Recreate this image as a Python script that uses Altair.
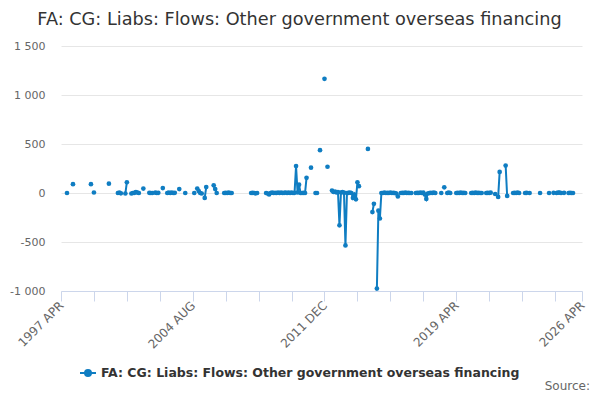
import altair as alt
import pandas as pd

title_text = "FA: CG: Liabs: Flows: Other government overseas financing"
series_name = "FA: CG: Liabs: Flows: Other government overseas financing"
source_text = "Source:"

# month index counted from 1997 APR (0) to 2026 APR (348)
obs_month = [
    4, 8, 20, 22, 32, 38, 39, 40, 43, 44, 47, 48, 49, 50, 51, 52, 55,
    59, 60, 61, 63, 64, 65, 68, 71, 72, 73, 74, 75, 76, 79, 83, 89,
    91, 92, 93, 94, 96, 97, 102, 103, 104, 109, 110, 111, 112, 113, 114,
    127, 128, 129, 130, 131,
    137, 138, 139, 140, 141, 142, 143, 144, 145, 146, 147, 148, 149, 150,
    151, 152, 153, 154, 155, 156, 157, 158, 159, 160, 161, 162, 163, 164,
    167, 170, 171, 173, 176, 178,
    181, 182, 183, 184, 185, 186, 187, 188, 189, 190, 191, 192, 193, 194,
    195, 196, 197, 198, 199, 205, 208, 209, 211, 212, 213, 214,
    215, 216, 217, 218, 219, 220, 221, 222, 223, 224, 225,
    227, 228, 229, 230, 231, 232, 233, 234,
    237, 238, 239, 240, 241, 242, 243, 244, 245, 246, 247, 248, 249, 250,
    254, 256, 258, 259, 260, 264, 265, 266, 267, 268, 269, 270,
    274, 275, 276, 277, 278, 279, 280, 281, 284, 285, 286, 287,
    290, 292, 293, 297, 298, 302, 303, 304, 305, 306, 310, 311, 313,
    320, 326, 329, 331, 332, 333, 334, 336, 339, 340, 341, 342,
]
obs_value = [
    0, 90, 90, 5, 95, 0, 3, -3, -5, 110, -5, 0, 2, 8, 5, 0, 45,
    2, 0, 0, 3, 0, 2, 50, 0, 3, 0, 5, 0, 2, 40, 0, 0,
    45, 20, 0, -5, -50, 60, 78, 40, 0, 0, 2, 0, 3, 0, 0,
    0, 2, 0, -3, 0,
    0, -5, -15, 0, 3, 0, 2, 0, 5, 0, 3, 0, 2, 5,
    0, 3, 0, 5, 0, 2, 275, 5, 85, 0, 0, 2, 0, 155,
    258, 0, 0, 437, 1165, 268,
    25, 10, 15, 5, 10, -330, 5, 10, 5, -535, 0, 2, 5, 0,
    -50, -15, -65, 110, 70, 450, -195, -110, -975, -180, -260, 0,
    0, 3, 0, 2, 0, 5, 0, 2, 0, -5, -35,
    0, 2, 0, 3, 0, 2, 0, 0,
    0, 2, 0, 3, 0, 5, -15, -60, -5, 0, 2, 0, 3, 0,
    0, 58, 0, 3, 0, 0, 2, 0, 3, 0, 2, 0,
    0, 2, 0, 3, 0, 2, 0, 0, 0, 2, 0, 3,
    -10, -40, 215, 280, -30, 0, 2, 0, 3, 0, 0, 2, 0,
    0, 0, 2, 0, 3, 5, 0, 2, 0, 2, 0, 0,
]

x_tick_values = [0, 22, 44, 66, 88, 110, 132, 154, 176, 198, 220, 242, 264, 286, 308, 330, 348]
x_label_values = [0, 88, 176, 264, 348]
x_label_texts = ["1997 APR", "2004 AUG", "2011 DEC", "2019 APR", "2026 APR"]
y_tick_values = [-1000, -500, 0, 500, 1000, 1500]

line_color = "#0f7dc2"

full = pd.DataFrame({"m": list(range(0, 349))})
obs = pd.DataFrame({"m": obs_month, "v": obs_value})
df = full.merge(obs, on="m", how="left")
df["series"] = series_name

label_expr = " : ".join(
    f"datum.value == {v} ? '{t}'" for v, t in zip(x_label_values, x_label_texts)
) + " : ''"

legend_symbol = ("M-1,0L1,0M-0.375,0A0.375,0.375,0,1,0,0.375,0"
                 "A0.375,0.375,0,1,0,-0.375,0Z")

line = alt.Chart(df).mark_line(
    strokeWidth=2,
    invalid="break-paths-filter-domains",
    point=alt.OverlayMarkDef(filled=True, size=22),
).encode(
    x=alt.X(
        "m:Q",
        title=None,
        scale=alt.Scale(domain=[0, 348], nice=False, zero=False),
        axis=alt.Axis(
            values=x_tick_values,
            labelExpr=label_expr,
            grid=False,
            domainColor="#ccd6eb",
            tickColor="#ccd6eb",
            tickSize=10,
            labelAngle=-45,
            labelAlign="right",
            labelBaseline="middle",
            labelPadding=2,
            labelColor="#666666",
            labelFontSize=12,
            labelFont="DejaVu Sans",
            labelOverlap=False,
        ),
    ),
    y=alt.Y(
        "v:Q",
        title=None,
        scale=alt.Scale(domain=[-1000, 1500], nice=False),
        axis=alt.Axis(
            values=y_tick_values,
            labelExpr="replace(replace(format(datum.value, ','), ',', ' '), '\u2212', '-')",
            domain=False,
            ticks=False,
            gridColor="#e6e6e6",
            labelPadding=16,
            labelColor="#666666",
            labelFontSize=11,
            labelFont="DejaVu Sans",
        ),
    ),
    color=alt.Color(
        "series:N",
        scale=alt.Scale(range=[line_color]),
        legend=alt.Legend(
            title=None,
            orient="none",
            legendX=18,
            legendY=318,
            direction="horizontal",
            symbolType=legend_symbol,
            symbolSize=256,
            symbolStrokeWidth=2,
            symbolFillColor=line_color,
            symbolStrokeColor=line_color,
            labelFontSize=12.5,
            labelFontWeight="bold",
            labelColor="#333333",
            labelFont="DejaVu Sans",
            labelLimit=700,
        ),
    ),
)

source = alt.Chart(pd.DataFrame({"t": [source_text]})).mark_text(
    align="right", baseline="alphabetic", fontSize=12, color="#666666", font="DejaVu Sans"
).encode(text="t:N", x=alt.value(529), y=alt.value(344))

chart = alt.layer(line, source).properties(
    width=521,
    height=245,
    title=alt.Title(
        title_text,
        fontSize=17.7,
        fontWeight="normal",
        color="#333333",
        font="DejaVu Sans",
        anchor="middle",
        dx=-22,
        offset=11,
    ),
    padding={"left": 53, "top": 38, "right": 10, "bottom": 101},
    autosize="none",
).configure_view(strokeWidth=0)

chart.save("out.html", embed_options={"renderer": "svg", "actions": False})
